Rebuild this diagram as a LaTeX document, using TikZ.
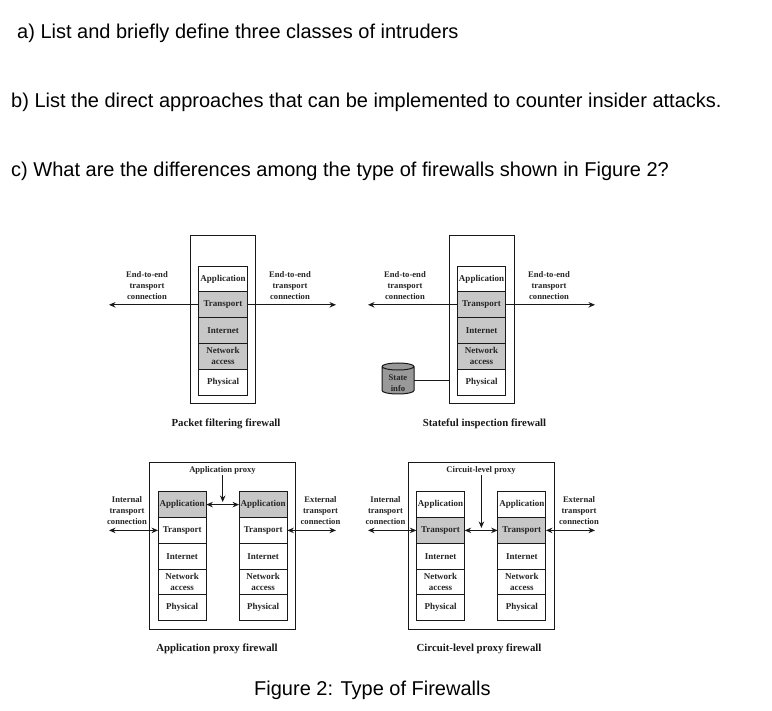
\documentclass[tikz,border=0pt]{standalone}
\usepackage{fontspec}
\setmainfont{Liberation Sans}
\newfontfamily\figserif{Liberation Serif}
\usetikzlibrary{shapes.geometric,arrows.meta}
\tikzset{
	question/.style={anchor=base west, inner sep=0pt, font=\fontsize{20}{24}\selectfont},
	firewall/.style={rectangle, draw=black!90, line width=1pt, inner sep=0pt, outer sep=0pt},
	layer/.style={rectangle, draw=black!90, line width=1pt, inner sep=0pt, outer sep=0pt, minimum width=48.3pt, minimum height=25.8pt, align=center, text=black!85, font=\figserif\bfseries\fontsize{9}{11}\selectfont},
	shaded/.style={layer, fill=black!22},
	note/.style={align=center, inner sep=0pt, text=black!85, font=\figserif\bfseries\fontsize{8.6}{11}\selectfont},
	title/.style={inner sep=0pt, text=black!90, font=\figserif\bfseries\fontsize{10.8}{13}\selectfont},
	link/.style={draw=black!90, line width=1.1pt, >={Stealth[length=6.5pt, width=5.5pt]}}
}
\begin{document}
\begin{tikzpicture}[x=1pt, y=-1pt]
				\useasboundingbox (0, 0) rectangle (772, 711);
				\fill[white] (0, 0) rectangle (772, 711);

				\node[question] (qa) at (17, 39) {a) List and briefly define three classes of intruders};
				\node[question] (qb) at (11, 108) {b) List the direct approaches that can be implemented to counter insider attacks.};
				\node[question] (qc) at (11, 177) {c) What are the differences among the type of firewalls shown in Figure 2?};

				% packet filtering
				\node[firewall, minimum width=64.6pt, minimum height=168.7pt] (pfbox) at (223, 319.4) {};
				\node[layer] (pfapp) at (223, 279) {Application};
				\node[shaded] (pftrans) at (223, 304.8) {Transport};
				\node[shaded] (pfinet) at (223, 330.6) {Internet};
				\node[shaded] (pfnet) at (223, 356.4) {Network\\access};
				\node[layer] (pfphy) at (223, 382.2) {Physical};
				\coordinate (pfleft) at (109, 304.8);
				\coordinate (pfright) at (336, 304.8);
				\draw[link, ->] (pftrans.west) -- (pfleft);
				\draw[link, ->] (pftrans.east) -- (pfright);
				\node[note] (pfnotel) at (147, 285.5) {End-to-end\\transport\\connection};
				\node[note] (pfnoter) at (290, 285.5) {End-to-end\\transport\\connection};
				\node[title] (pftitle) at (226, 424) {Packet filtering firewall};

				% stateful inspection
				\node[firewall, minimum width=65pt, minimum height=168.7pt] (sibox) at (481.8, 319.4) {};
				\node[layer] (siapp) at (481.5, 279) {Application};
				\node[shaded] (sitrans) at (481.5, 304.8) {Transport};
				\node[shaded] (siinet) at (481.5, 330.6) {Internet};
				\node[shaded] (sinet) at (481.5, 356.4) {Network\\access};
				\node[layer] (siphy) at (481.5, 382.2) {Physical};
				\coordinate (sileft) at (368, 304.8);
				\coordinate (siright) at (595, 304.8);
				\draw[link, ->] (sitrans.west) -- (sileft);
				\draw[link, ->] (sitrans.east) -- (siright);
				\node[note] (sinotel) at (405, 285.5) {End-to-end\\transport\\connection};
				\node[note] (sinoter) at (549, 285.5) {End-to-end\\transport\\connection};
				\node[cylinder, shape border rotate=90, aspect=0.35, draw=black!90, line width=1pt, fill=black!40, inner sep=0pt, outer sep=0pt, minimum width=32pt, minimum height=31pt] (sistate) at (398, 380.5) {\hspace*{20pt}};
				\node[note] (siinfo) at (398, 383.5) {State\\info};
				\draw[link] (sistate.east) -- (sibox.west |- sistate.east);
				\node[title] (sititle) at (484.5, 424) {Stateful inspection firewall};

				% application proxy
				\node[firewall, minimum width=146pt, minimum height=166.7pt] (apbox) at (222.7, 545.7) {};
				\node[shaded] (apappl) at (182.2, 504.6) {Application};
				\node[layer] (aptransl) at (182.2, 530.4) {Transport};
				\node[layer] (apinetl) at (182.2, 556.2) {Internet};
				\node[layer] (apnetl) at (182.2, 582) {Network\\access};
				\node[layer] (apphyl) at (182.2, 607.8) {Physical};
				\node[shaded] (apappr) at (263.2, 504.6) {Application};
				\node[layer] (aptransr) at (263.2, 530.4) {Transport};
				\node[layer] (apinetr) at (263.2, 556.2) {Internet};
				\node[layer] (apnetr) at (263.2, 582) {Network\\access};
				\node[layer] (apphyr) at (263.2, 607.8) {Physical};
				\node[note] (apnote) at (222.5, 470) {Application proxy};
				\coordinate (apdrop) at (222.7, 475);
				\coordinate (aphit) at (222.7, 502);
				\coordinate (apleft) at (109, 530.4);
				\coordinate (apright) at (336, 530.4);
				\draw[link, <->] (apappl.east) -- (apappr.west);
				\draw[link, ->] (apdrop) -- (aphit);
				\draw[link, <->] (apleft) -- (aptransl.west);
				\draw[link, <->] (apright) -- (aptransr.east);
				\node[note] (apnotel) at (127, 511) {Internal\\transport\\connection};
				\node[note] (apnoter) at (320.5, 511) {External\\transport\\connection};
				\node[title] (aptitle) at (217, 648.5) {Application proxy firewall};

				% circuit-level proxy
				\node[firewall, minimum width=146pt, minimum height=166.7pt] (clbox) at (481.2, 545.7) {};
				\node[layer] (clappl) at (440.5, 504.6) {Application};
				\node[shaded] (cltransl) at (440.5, 530.4) {Transport};
				\node[layer] (clinetl) at (440.5, 556.2) {Internet};
				\node[layer] (clnetl) at (440.5, 582) {Network\\access};
				\node[layer] (clphyl) at (440.5, 607.8) {Physical};
				\node[layer] (clappr) at (521.8, 504.6) {Application};
				\node[shaded] (cltransr) at (521.8, 530.4) {Transport};
				\node[layer] (clinetr) at (521.8, 556.2) {Internet};
				\node[layer] (clnetr) at (521.8, 582) {Network\\access};
				\node[layer] (clphyr) at (521.8, 607.8) {Physical};
				\node[note] (clnote) at (481, 470) {Circuit-level proxy};
				\coordinate (cldrop) at (481.4, 475);
				\coordinate (clhit) at (481.4, 528);
				\coordinate (clleft) at (368, 530.4);
				\coordinate (clright) at (595, 530.4);
				\draw[link, <->] (cltransl.east) -- (cltransr.west);
				\draw[link, ->] (cldrop) -- (clhit);
				\draw[link, <->] (clleft) -- (cltransl.west);
				\draw[link, <->] (clright) -- (cltransr.east);
				\node[note] (clnotel) at (385.5, 511) {Internal\\transport\\connection};
				\node[note] (clnoter) at (579, 511) {External\\transport\\connection};
				\node[title] (cltitle) at (479, 649) {Circuit-level proxy firewall};

				\node[question] (figcap) at (254, 695) {Figure 2: Type of Firewalls};
			\end{tikzpicture}
\end{document}
